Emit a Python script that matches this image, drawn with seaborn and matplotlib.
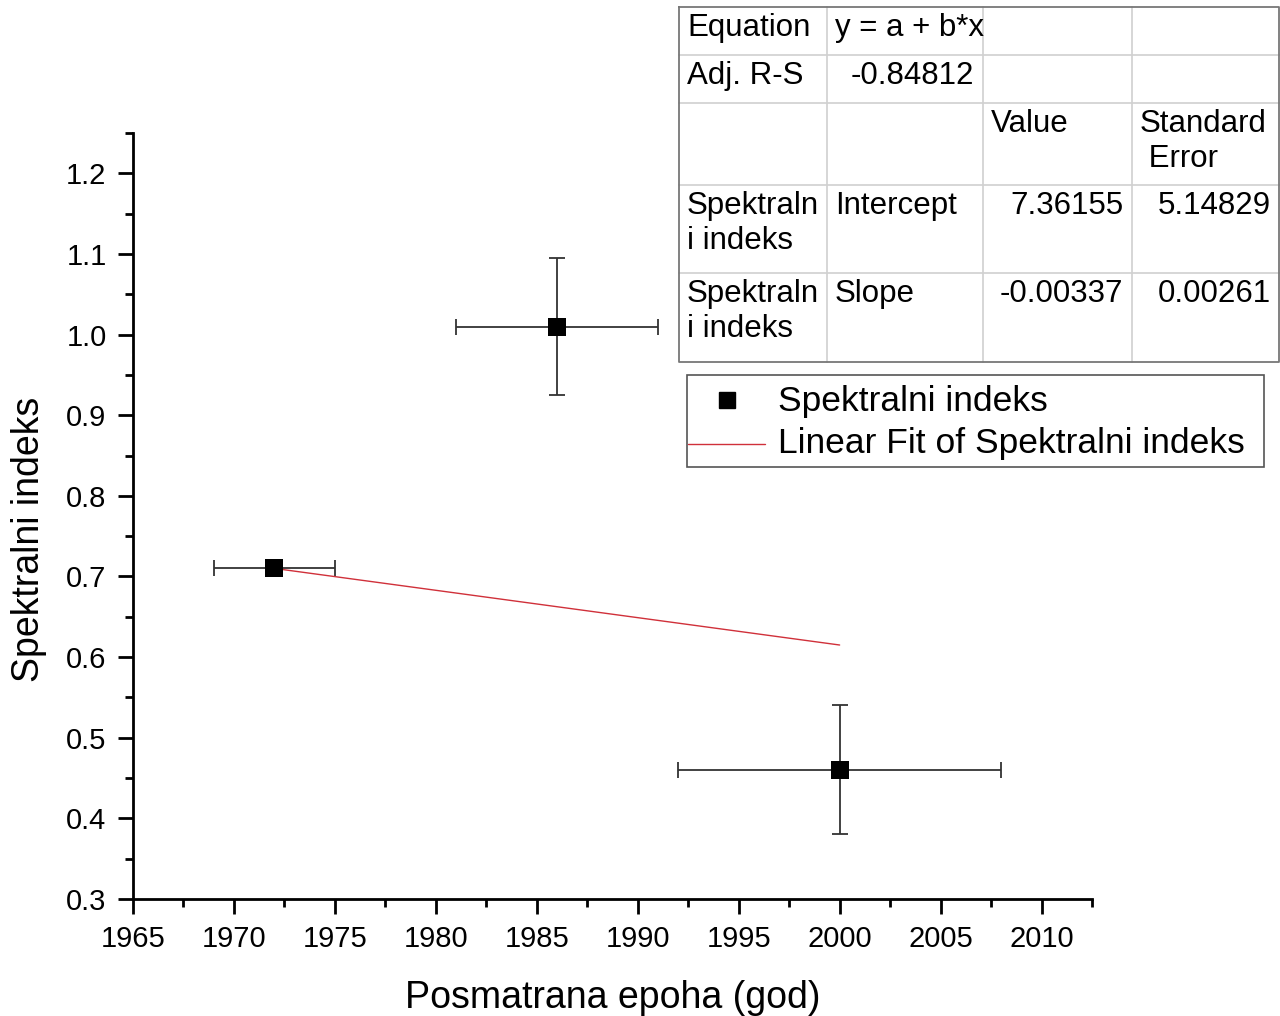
import numpy as np
import pandas as pd
import matplotlib
matplotlib.use("Agg")
import matplotlib.pyplot as plt
import seaborn as sns
from matplotlib.ticker import MultipleLocator
from matplotlib.lines import Line2D
from matplotlib.patches import Rectangle

# ---- data ----
epoch = [1972, 1986, 2000]
spectral_index = [0.71, 1.01, 0.46]
epoch_err = [3, 5, 8]
index_err = [0.0, 0.085, 0.08]

fit_x = [1972, 2000]
fit_y = [0.710, 0.615]

legend_labels = ["Spektralni indeks", "Linear Fit of Spektralni indeks"]

table_rows = [
    ["Equation", "y = a + b*x", "", ""],
    ["Adj. R-S", "-0.84812", "", ""],
    ["", "", "Value", "Standard\n Error"],
    ["Spektraln\ni indeks", "Intercept", "7.36155", "5.14829"],
    ["Spektraln\ni indeks", "Slope", "-0.00337", "0.00261"],
]

sns.set_theme(style="ticks")
plt.rcParams['font.family'] = ['Liberation Sans', 'DejaVu Sans']

W, H = 1280, 1016
fig = plt.figure(figsize=(W / 100, H / 100), dpi=100)
ax = fig.add_axes([133 / W, 1 - 899 / H, (1092 - 133) / W, (899 - 133) / H])

df = pd.DataFrame({"x": epoch, "y": spectral_index})
fit_df = pd.DataFrame({"x": fit_x, "y": fit_y})

FIT_COLOR = '#d0303a'

ax.errorbar(epoch, spectral_index, xerr=epoch_err, yerr=index_err, fmt='none',
            ecolor='#333333', elinewidth=1.3, capsize=5.5, capthick=1.3, zorder=2)
sns.lineplot(data=fit_df, x="x", y="y", ax=ax, color=FIT_COLOR, linewidth=1.0, zorder=3)
sns.scatterplot(data=df, x="x", y="y", ax=ax, marker='s', s=150, color='black',
                edgecolor='black', linewidth=0, zorder=4)

ax.set_xlim(1965, 2012.5)
ax.set_ylim(0.3, 1.25)
ax.xaxis.set_major_locator(MultipleLocator(5))
ax.xaxis.set_minor_locator(MultipleLocator(2.5))
ax.yaxis.set_major_locator(MultipleLocator(0.1))
ax.yaxis.set_minor_locator(MultipleLocator(0.05))
ax.yaxis.set_major_formatter(matplotlib.ticker.FormatStrFormatter('%.1f'))

for s in ['top', 'right']:
    ax.spines[s].set_visible(False)
for s in ['left', 'bottom']:
    ax.spines[s].set_linewidth(2.0)
    ax.spines[s].set_color('black')
ax.tick_params(which='major', direction='out', length=11, width=2.0, labelsize=21, colors='black', pad=8)
ax.tick_params(which='minor', direction='out', length=6, width=2.0, colors='black')

ax.set_xlabel("Posmatrana epoha (god)", fontsize=27, labelpad=19, color='black')
ax.set_ylabel("Spektralni indeks", fontsize=27, color='black')
ax.yaxis.set_label_coords(-0.09, 0.469)

# overlay axes in pixel coordinates for the fit table and legend box
tab = fig.add_axes([0, 0, 1, 1])
tab.set_xlim(0, W)
tab.set_ylim(H, 0)
tab.axis('off')

# legend
tab.add_patch(Rectangle((687, 375), 577, 92, fill=False, edgecolor='#555555', lw=1.2))
tab.add_line(Line2D([727], [400], marker='s', linestyle='none', color='black', markersize=12))
tab.add_line(Line2D([688, 765], [444, 444], color=FIT_COLOR, lw=1.0))
tab.text(778, 401, legend_labels[0], ha='left', va='center', fontsize=25.5, color='black')
tab.text(778, 444, legend_labels[1], ha='left', va='center', fontsize=25.5, color='black')

# fit table
col_edges = [679, 827, 983, 1132, 1280]
row_edges = [7, 55, 103, 185, 273, 362]
grid_c = '#d0d0d0'
for xe in col_edges[1:-1]:
    tab.plot([xe, xe], [row_edges[0], row_edges[-1]], color=grid_c, lw=1.2)
for ye in row_edges[1:-1]:
    tab.plot([col_edges[0], col_edges[-1]], [ye, ye], color=grid_c, lw=1.2)
tab.plot([679, 1279, 1279, 679, 679], [7, 7, 362, 362, 7], color='#777777', lw=1.3)

align = [
    ['left', 'left', 'left', 'left'],
    ['left', 'right', 'left', 'left'],
    ['left', 'left', 'left', 'left'],
    ['left', 'left', 'right', 'right'],
    ['left', 'left', 'right', 'right'],
]
for r, row in enumerate(table_rows):
    for c, txt in enumerate(row):
        if not txt:
            continue
        ha = align[r][c]
        if ha == 'left':
            xx = col_edges[c] + 8
        else:
            xx = col_edges[c + 1] - 9
        yy = row_edges[r] + 6
        tab.text(xx, yy, txt, ha=ha, va='top', fontsize=22.5, linespacing=1.2, color='black')

fig.savefig("out.png", dpi=100, facecolor='white')
